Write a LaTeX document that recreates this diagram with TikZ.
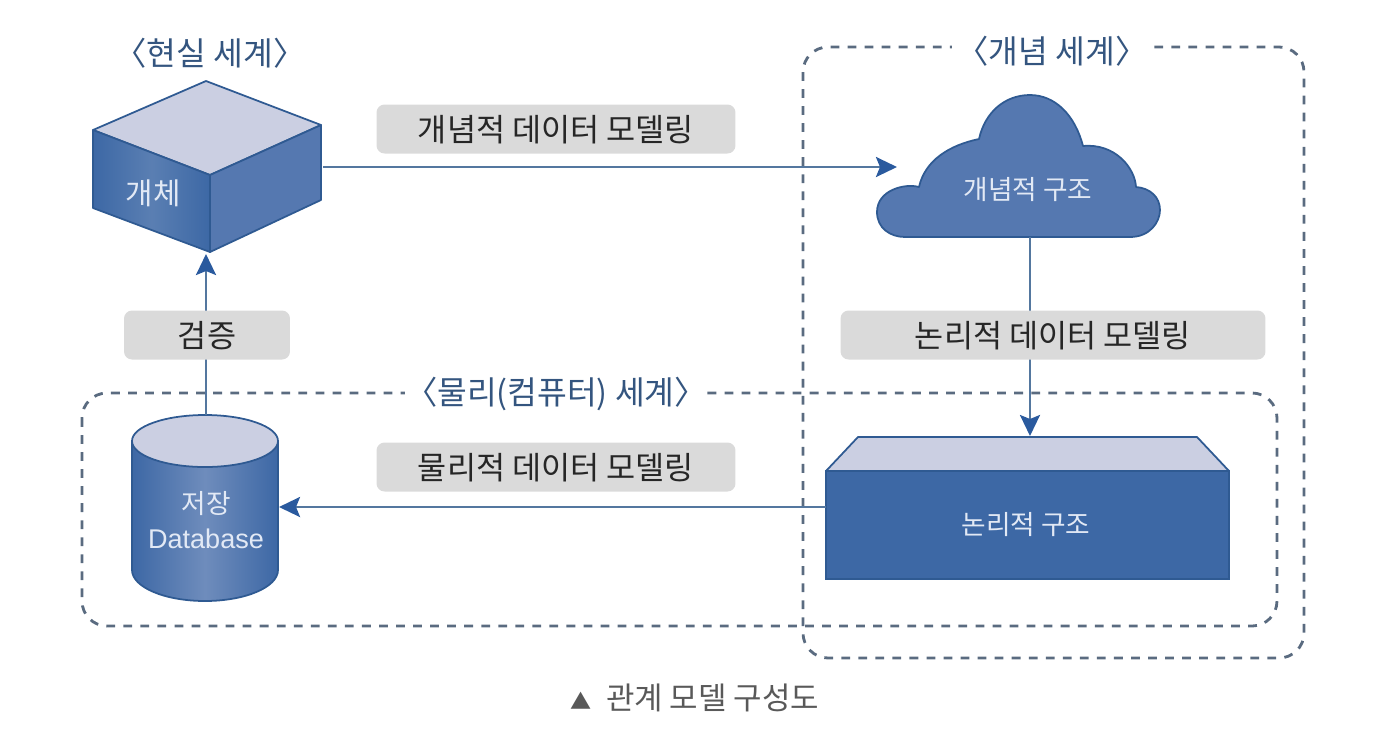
\documentclass[tikz,border=0pt]{standalone}
\usepackage{fontspec}
\usetikzlibrary{arrows.meta}
\setmainfont{Noto Sans CJK KR}
\newfontfamily\latinfont{Liberation Sans}
\definecolor{darkface}{HTML}{3D68A5}
\definecolor{midface}{HTML}{5578B0}
\definecolor{topface}{HTML}{CBCFE2}
\definecolor{edgeblue}{HTML}{2F5A92}
\definecolor{linkblue}{HTML}{54779F}
\definecolor{tipblue}{HTML}{2A5A9E}
\definecolor{dashgray}{HTML}{5A6B80}
\definecolor{titleblue}{HTML}{34557F}
\definecolor{pillgray}{HTML}{DADADA}
\definecolor{shapetext}{HTML}{E2E9F5}
\begin{document}
\begin{tikzpicture}[x=0.02cm, y=0.02cm]
        \tikzstyle{every node}+=[inner sep=0pt]
        \tikzstyle{dashbox}=[dashgray, line width=1.6pt, dash pattern=on 5pt off 4.7pt, rounded corners=0.5cm]
        \tikzstyle{faceedge}=[edgeblue, line width=1pt, line join=round]
        \tikzstyle{link}=[linkblue, line width=1.6pt]
        \tikzstyle{linkarrow}=[link, -{Stealth[length=0.42cm, width=0.4cm, inset=0.08cm, color=tipblue]}]
        \tikzstyle{pill}=[fill=pillgray, rounded corners=0.16cm, minimum height=0.98cm, text height=15pt, text depth=1.3pt, font=\fontsize{18}{20}\selectfont, text=black!85]
        \tikzstyle{worldtitle}=[text=titleblue, font=\fontsize{18.4}{20}\selectfont]
        \tikzstyle{shapelabel}=[text=shapetext, font=\fontsize{15.2}{17}\selectfont]
        \useasboundingbox (0,0) rectangle (1377,-745);
        % dashed worlds
        \draw [dashbox] (803,-47) rectangle (1304,-658);
        \draw [dashbox] (82,-393) rectangle (1277,-626);
        % object cube
        \draw [faceedge, fill=topface] (93,-130) -- (206,-81) -- (321,-125) -- (210,-175) -- cycle;
        \draw [faceedge, left color=darkface, right color=darkface, middle color=darkface!85!white] (93,-130) -- (210,-175) -- (210,-252) -- (93,-208) -- cycle;
        \draw [faceedge, fill=midface] (210,-175) -- (321,-125) -- (321,-200) -- (210,-252) -- cycle;
        \coordinate (cubeR) at (323,-167);
        \coordinate (cubeB) at (206,-254);
        \node [shapelabel, font=\fontsize{17}{19}\selectfont] (objectlabel) at (153,-193) {개체};
        % database cylinder
        \draw [faceedge, left color=darkface, right color=darkface, middle color=midface!85!white] (132,-441) -- (132,-570) arc (180:360:73 and 31) -- (278,-441) -- cycle;
        \draw [faceedge, fill=topface] (205,-441) ellipse (73 and 26);
        \coordinate (dbT) at (206,-415);
        \coordinate (dbR) at (279,-507);
        \node [shapelabel] (dblabel) at (206,-504) {저장};
        \node [shapelabel, font=\latinfont\fontsize{15.4}{17}\selectfont] (dbname) at (206,-539) {Database};
        % concept cloud
        \draw [faceedge, fill=midface] (905,-237) -- (1130,-237)
                .. controls (1150,-237) and (1160,-222) .. (1160,-210)
                .. controls (1160,-197) and (1150,-188) .. (1136,-187)
                .. controls (1135,-168) and (1115,-143) .. (1083,-146)
                .. controls (1075,-115) and (1055,-95) .. (1030,-95)
                .. controls (1005,-95) and (985,-112) .. (979,-139)
                .. controls (950,-145) and (925,-160) .. (919,-187)
                .. controls (905,-183) and (877,-190) .. (877,-212)
                .. controls (877,-228) and (890,-237) .. (905,-237) -- cycle;
        \coordinate (cloudL) at (897,-167);
        \coordinate (cloudB) at (1030,-237);
        \node [shapelabel] (cloudlabel) at (1028,-190) {개념적 구조};
        % logical block
        \draw [faceedge, fill=topface] (826,-471) -- (858,-437) -- (1197,-437) -- (1229,-471) -- cycle;
        \draw [edgeblue, line width=0.6pt, fill=darkface] (826,-471) rectangle (1229,-579);
        \coordinate (logicT) at (1030,-436);
        \coordinate (logicL) at (826,-507);
        \node [shapelabel] (logiclabel) at (1026,-525) {논리적 구조};
        % connectors
        \draw [linkarrow] (cubeR) -- (cloudL);
        \draw [linkarrow] (cloudB) -- (logicT);
        \draw [linkarrow] (logicL) -- (dbR);
        \draw [linkarrow] (dbT) -- (cubeB);
        % labels on the connectors
        \node [pill, minimum width=7.18cm] (conceptmodel) at (556,-129) {개념적 데이터 모델링};
        \node [pill, minimum width=8.5cm] (logicmodel) at (1053,-335) {논리적 데이터 모델링};
        \node [pill, minimum width=7.18cm] (physmodel) at (556,-467) {물리적 데이터 모델링};
        \node [pill, minimum width=3.32cm] (verify) at (207,-335) {검증};
        % titles
        \node [worldtitle] (realtitle) at (210,-53) {〈현실 세계〉};
        \node [worldtitle, fill=white, minimum width=4cm, minimum height=0.8cm] (concepttitle) at (1052,-51) {〈개념 세계〉};
        \node [worldtitle, fill=white, minimum width=6.06cm, minimum height=0.8cm] (phystitle) at (556,-394) {〈물리(컴퓨터) 세계〉};
        \node [text=black!65, font=\fontsize{17.6}{19}\selectfont] (caption) at (695,-698) {{\fontsize{12}{13}\selectfont ▲}\hspace{4pt} 관계 모델 구성도};
\end{tikzpicture}
\end{document}
